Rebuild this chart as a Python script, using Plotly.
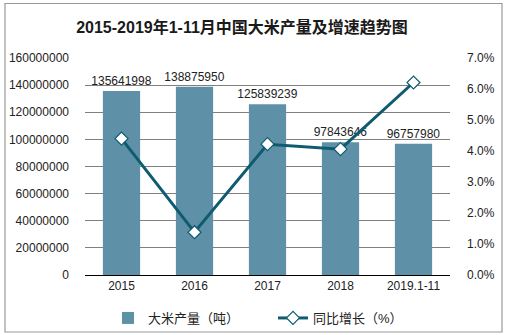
import plotly.graph_objects as go

categories = ["2015", "2016", "2017", "2018", "2019.1-11"]
output_tons = [135641998, 138875950, 125839239, 97843646, 96757980]
growth_pct = [4.40, 1.38, 4.22, 4.06, 6.21]
y_ticks = [0, 20000000, 40000000, 60000000, 80000000, 100000000, 120000000, 140000000, 160000000]
y2_ticks = [0, 1, 2, 3, 4, 5, 6, 7]

FONT = "Liberation Sans, Arial, Noto Sans CJK SC, sans-serif"
BAR_COLOR = "#5e90a8"
LINE_COLOR = "#0f5b6f"

W, H = 509, 335
L, R, T, B = 85, 59, 58, 60
pw, ph = W - L - R, H - T - B

def px_x(x):
    return (x - L) / pw

def px_y(y):
    return (H - B - y) / ph

fig = go.Figure()
fig.add_trace(go.Bar(
    x=categories, y=output_tons, name="大米产量（吨）",
    marker=dict(color=BAR_COLOR, line=dict(width=0)),
    text=[str(v) for v in output_tons], textposition="outside",
    constraintext="none", cliponaxis=False,
    textfont=dict(size=12, color="#222222", family=FONT),
    yaxis="y",
))
fig.add_trace(go.Scatter(
    x=categories, y=growth_pct, name="同比增长（%）", mode="lines+markers",
    line=dict(color=LINE_COLOR, width=3),
    marker=dict(symbol="diamond", size=10, color="white", line=dict(color=LINE_COLOR, width=1.2)),
    yaxis="y2", cliponaxis=False,
))

fig.update_layout(
    width=W, height=H,
    margin=dict(l=L, r=R, t=T, b=B, autoexpand=False),
    paper_bgcolor="white", plot_bgcolor="white",
    font=dict(family=FONT, size=12, color="#222222"),
    title=dict(text="<b>2015-2019年1-11月中国大米产量及增速趋势图</b>",
               x=242 / W, xanchor="center", xref="container",
               y=1 - 27 / H, yanchor="middle", yref="container",
               font=dict(size=16, color="#1a1a1a", family=FONT)),
    bargap=0.49,
    showlegend=True,
    legend=dict(orientation="h", x=108 / W, xanchor="left", xref="container",
                y=(H - 318) / H, yanchor="middle", yref="container",
                font=dict(size=13, color="#222222", family=FONT),
                itemwidth=30, entrywidthmode="pixels", entrywidth=120,
                bgcolor="rgba(0,0,0,0)"),
    xaxis=dict(type="category", showline=True, linecolor="#000000", linewidth=1,
               ticks="", tickfont=dict(size=12, color="#222222"), showgrid=False,
               automargin=False),
    yaxis=dict(range=[0, 160000000], tickvals=y_ticks,
               ticktext=[str(v) for v in y_ticks],
               showgrid=True, gridcolor="#808080", gridwidth=1,
               showline=False, zeroline=False, ticks="", ticklabelstandoff=15,
               tickfont=dict(size=12, color="#222222"), automargin=False),
    yaxis2=dict(range=[0, 7], overlaying="y", side="right", tickvals=y2_ticks,
                ticktext=[f"{v:.1f}%" for v in y2_ticks],
                showgrid=False, zeroline=False, showline=False, ticks="",
                ticklabelstandoff=16, tickfont=dict(size=12, color="#222222"),
                automargin=False),
    shapes=[dict(type="rect", xref="paper", yref="paper",
                 x0=px_x(5), x1=px_x(502), y0=px_y(332), y1=px_y(3.5),
                 line=dict(color="#999999", width=1.2), layer="above")],
)

fig.write_html("out.html")
